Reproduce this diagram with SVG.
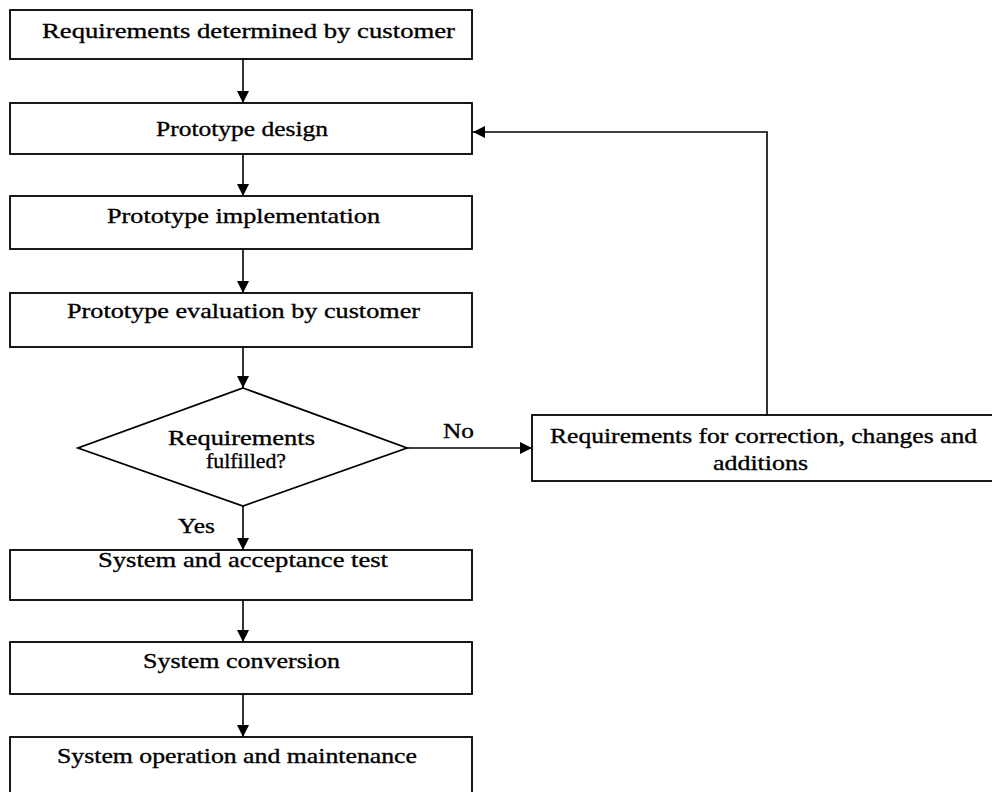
<svg xmlns="http://www.w3.org/2000/svg" width="992" height="792" viewBox="0 0 992 792">
<defs>
<style>
.box{fill:#fff;stroke:#000;stroke-width:1.8}
.t{font-family:"Liberation Serif","Times New Roman",serif;font-size:22px;fill:#000;stroke:#000;stroke-width:0.35}
.c{fill:none;stroke:#000;stroke-width:1.6}
</style>
<marker id="ah" viewBox="0 0 12 12" refX="12" refY="6" markerWidth="12" markerHeight="12" markerUnits="userSpaceOnUse" orient="auto">
<path d="M0,0 L12,6 L0,12 z" fill="#000"/>
</marker>
</defs>
<rect width="992" height="792" fill="#fff"/>
<g id="connectors">
<line class="c" x1="243" y1="59" x2="243" y2="103" marker-end="url(#ah)"/>
<line class="c" x1="243" y1="154" x2="243" y2="196" marker-end="url(#ah)"/>
<line class="c" x1="243" y1="249" x2="243" y2="293" marker-end="url(#ah)"/>
<line class="c" x1="243" y1="347" x2="243" y2="388" marker-end="url(#ah)"/>
<line class="c" x1="407" y1="448" x2="532" y2="448" marker-end="url(#ah)"/>
<polyline class="c" points="767,415 767,132 473,132" marker-end="url(#ah)"/>
<line class="c" x1="243" y1="506" x2="243" y2="550" marker-end="url(#ah)"/>
<line class="c" x1="243" y1="600" x2="243" y2="642" marker-end="url(#ah)"/>
<line class="c" x1="243" y1="694" x2="243" y2="737" marker-end="url(#ah)"/>
<text class="t" x="443" y="438" textLength="31" lengthAdjust="spacingAndGlyphs">No</text>
<text class="t" x="178" y="533" textLength="37" lengthAdjust="spacingAndGlyphs">Yes</text>
</g>
<g id="n1">
<rect class="box" x="10" y="10" width="462" height="49"/>
<text class="t" x="42" y="38" textLength="413" lengthAdjust="spacingAndGlyphs">Requirements determined by customer</text>
</g>
<g id="n2">
<rect class="box" x="10" y="103" width="462" height="51"/>
<text class="t" x="156" y="136" textLength="172" lengthAdjust="spacingAndGlyphs">Prototype design</text>
</g>
<g id="n3">
<rect class="box" x="10" y="196" width="462" height="53"/>
<text class="t" x="107" y="223" textLength="273" lengthAdjust="spacingAndGlyphs">Prototype implementation</text>
</g>
<g id="n4">
<rect class="box" x="10" y="293" width="462" height="54"/>
<text class="t" x="67" y="318" textLength="353" lengthAdjust="spacingAndGlyphs">Prototype evaluation by customer</text>
</g>
<g id="n5">
<polygon class="box" points="243,388 407,448 243,506 78,448"/>
<text class="t" x="168" y="445" textLength="147" lengthAdjust="spacingAndGlyphs">Requirements</text>
<text class="t" x="206" y="468" textLength="80" lengthAdjust="spacingAndGlyphs">fulfilled?</text>
</g>
<g id="n6">
<rect class="box" x="532" y="415" width="470" height="66"/>
<text class="t" x="550" y="443" textLength="427" lengthAdjust="spacingAndGlyphs">Requirements for correction, changes and</text>
<text class="t" x="713" y="470" textLength="95" lengthAdjust="spacingAndGlyphs">additions</text>
</g>
<g id="n7">
<rect class="box" x="10" y="550" width="462" height="50"/>
<text class="t" x="98" y="567" textLength="290" lengthAdjust="spacingAndGlyphs">System and acceptance test</text>
</g>
<g id="n8">
<rect class="box" x="10" y="642" width="462" height="52"/>
<text class="t" x="143" y="668" textLength="197" lengthAdjust="spacingAndGlyphs">System conversion</text>
</g>
<g id="n9">
<rect class="box" x="10" y="737" width="462" height="70"/>
<text class="t" x="57" y="763" textLength="360" lengthAdjust="spacingAndGlyphs">System operation and maintenance</text>
</g>
</svg>
